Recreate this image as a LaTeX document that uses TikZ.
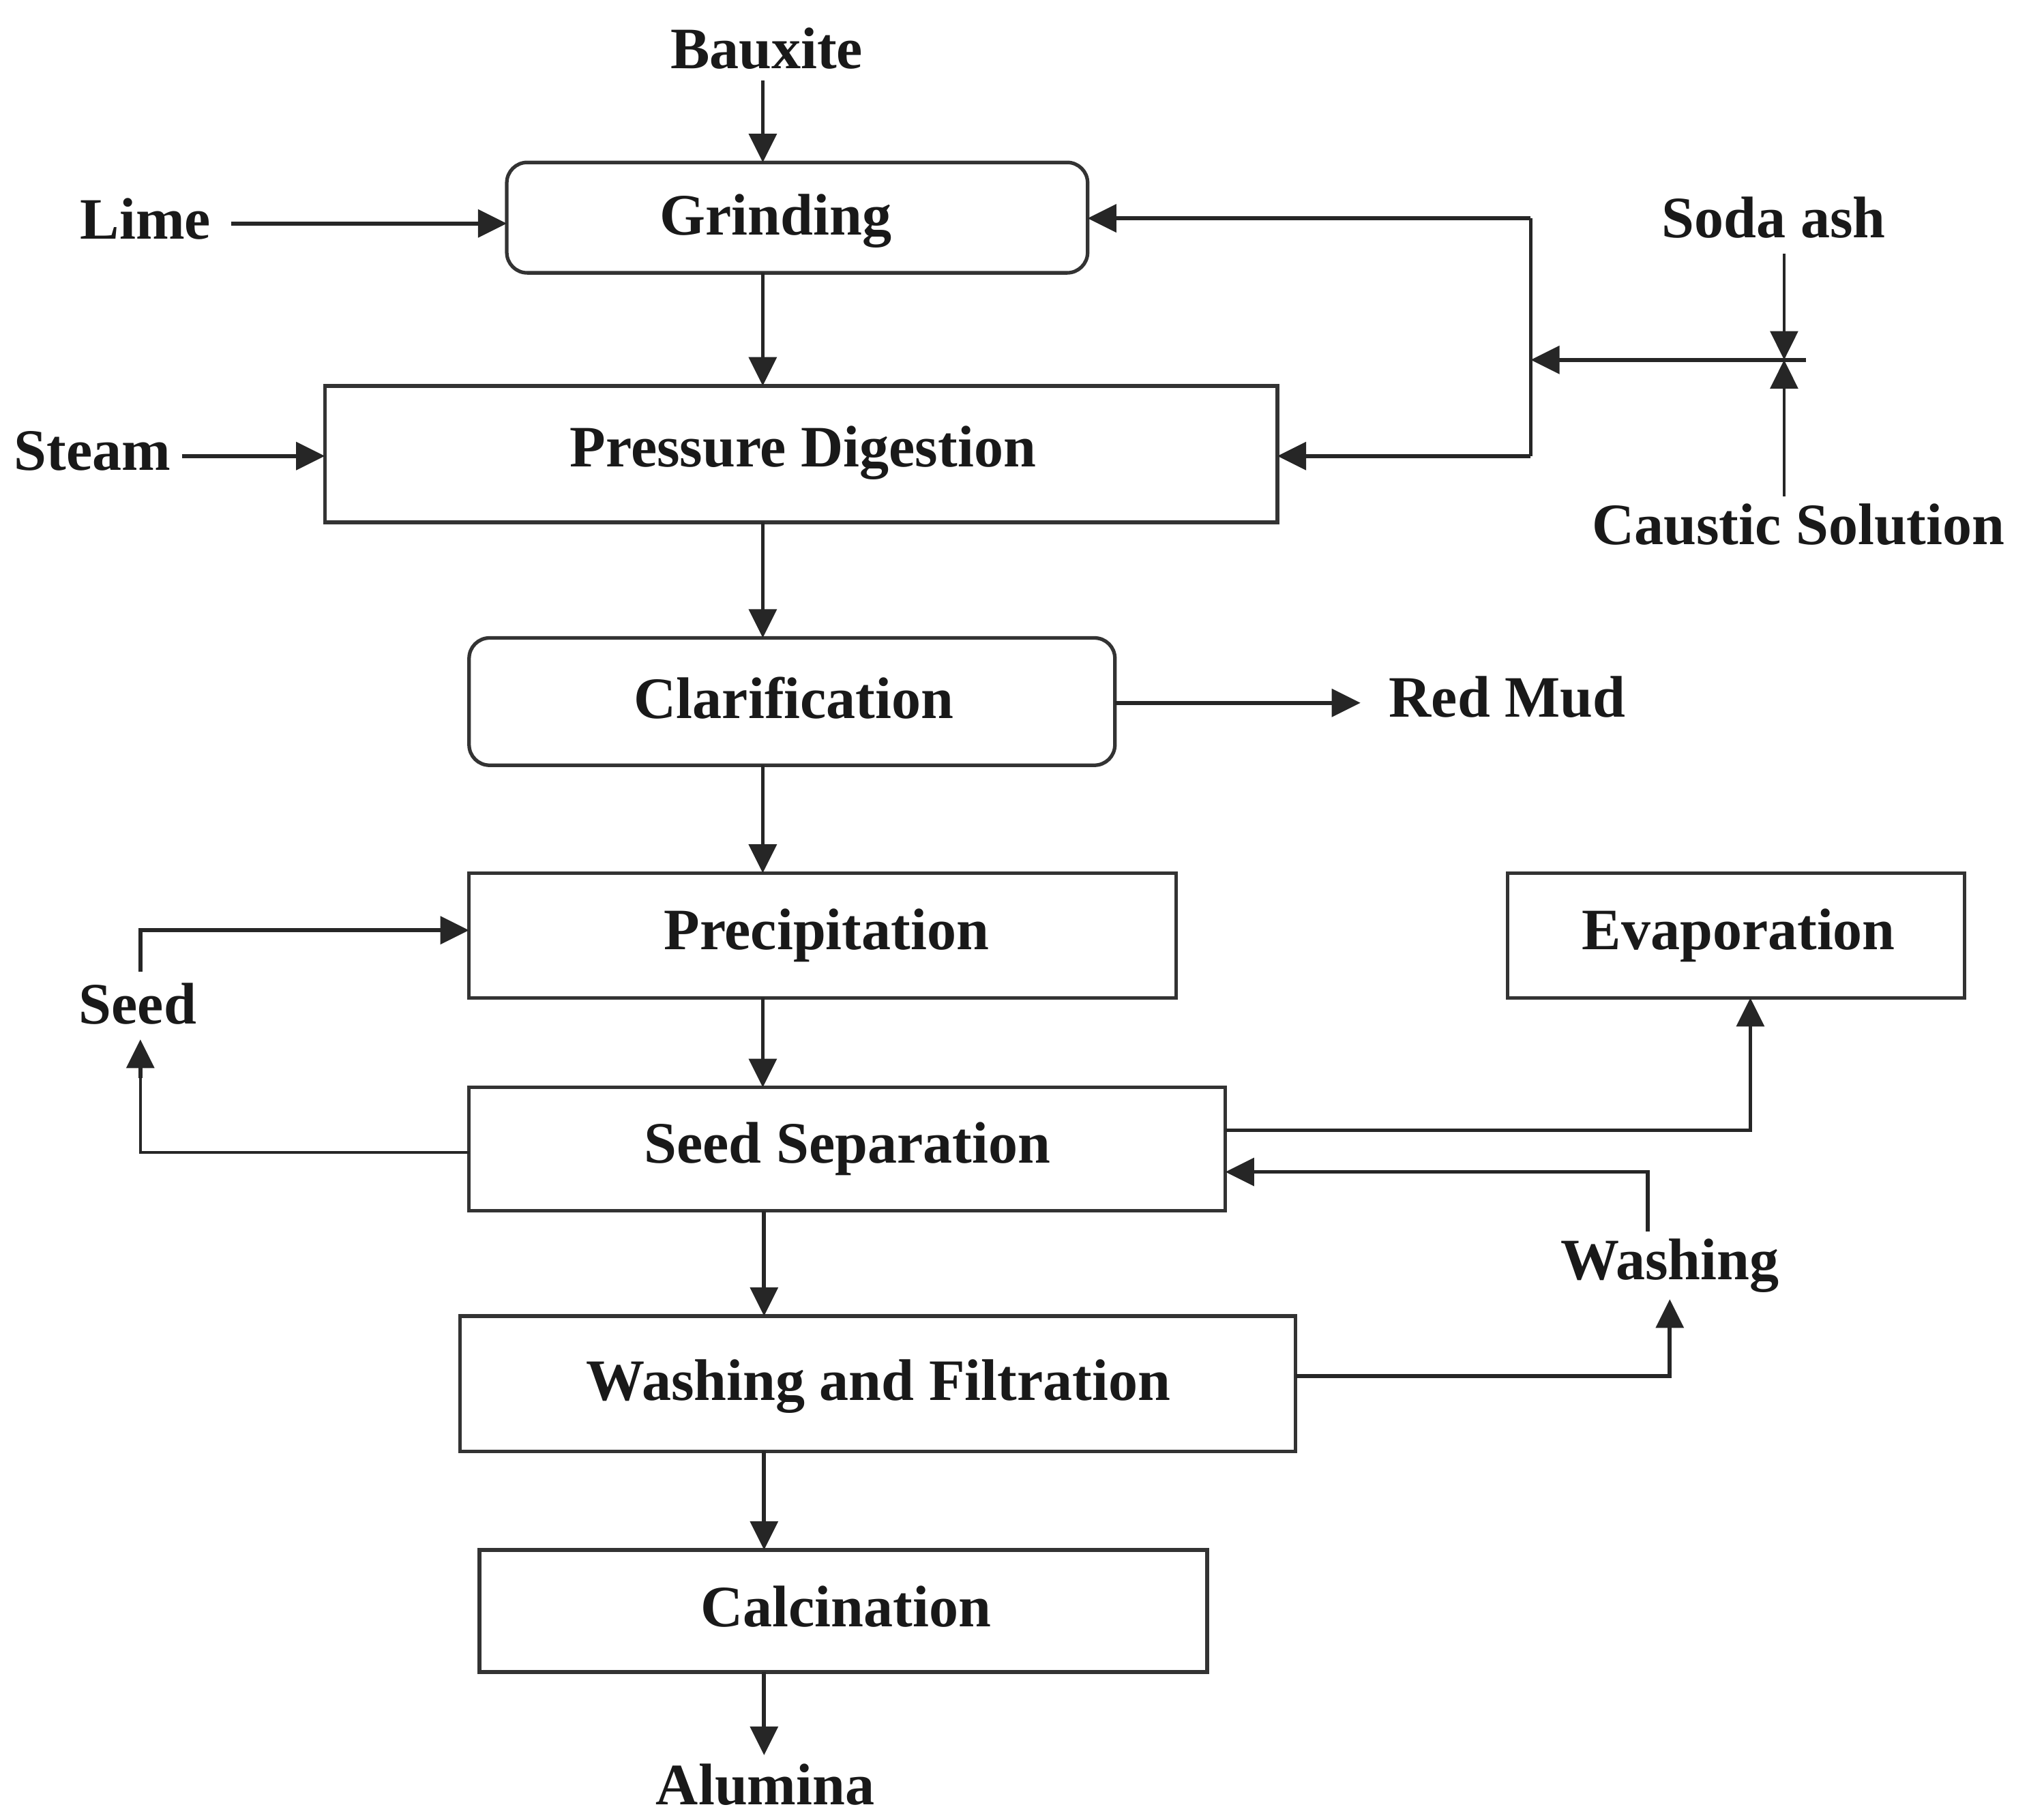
\documentclass[tikz,border=0pt]{standalone}
\usepackage{fontspec}
\setmainfont{Liberation Serif}
\usetikzlibrary{arrows.meta,calc}
\newcommand{\pxu}{0.019053cm}
\begin{document}
\begin{tikzpicture}[x=0.019053cm,y=-0.019053cm,
  font=\fontsize{24.5}{28}\selectfont\bfseries,
  every node/.style={text=black!90},
  lbl/.style={inner sep=1pt,anchor=base},
  boxs/.style={draw=black!80,line width=1.5pt,inner sep=0pt,outer sep=0pt},
  rbox/.style={boxs,rounded corners=0.3cm},
  arr/.style={draw=black!85,line width=1.6pt,-{Triangle[length=12pt,width=11.5pt]}},
  ln/.style={draw=black!85,line width=1.6pt}]
\useasboundingbox (0,0) rectangle (1573,1400.5);
\coordinate (mx) at (587,0);
% process boxes
\node[rbox,minimum width={447*\pxu},minimum height={85*\pxu}] (grind) at (613.5,167.5) {};
\node[lbl] at (597,181) {Grinding};
\node[boxs,minimum width={733*\pxu},minimum height={105*\pxu}] (pd) at (616.5,349.5) {};
\node[lbl] at (618,359) {Pressure Digestion};
\node[rbox,minimum width={497*\pxu},minimum height={98*\pxu}] (clar) at (609.5,540) {};
\node[lbl] at (611,553) {Clarification};
\node[boxs,minimum width={544*\pxu},minimum height={96*\pxu}] (prec) at (633,720) {};
\node[lbl] at (636,731) {Precipitation};
\node[boxs,minimum width={582*\pxu},minimum height={95*\pxu}] (ss) at (652,884.5) {};
\node[lbl] at (652,895) {Seed Separation};
\node[boxs,minimum width={352*\pxu},minimum height={96*\pxu}] (evap) at (1336,720) {};
\node[lbl] at (1338,731) {Evaporation};
\node[boxs,minimum width={643*\pxu},minimum height={104*\pxu}] (wf) at (675.5,1065) {};
\node[lbl] at (676,1078) {Washing and Filtration};
\node[boxs,minimum width={560*\pxu},minimum height={94*\pxu}] (calc) at (649,1240) {};
\node[lbl] at (651,1252) {Calcination};
% labels
\node[lbl] (baux) at (590,53) {Bauxite};
\node[lbl] (lime) at (112,184) {Lime};
\node[lbl] (steam) at (71,362) {Steam};
\node[lbl] (soda) at (1365,183) {Soda ash};
\node[lbl] (caus) at (1384,419) {Caustic Solution};
\node[lbl] (mud) at (1160,552) {Red Mud};
\node[lbl] (seed) at (106,788) {Seed};
\node[lbl] (wash) at (1285,985) {Washing};
\node[lbl,inner sep=0pt] (alum) at (589,1389) {Alumina};
% main vertical flow
\draw[arr] (mx |- 0,62) -- (grind.north -| mx);
\draw[arr] (grind.south -| mx) -- (pd.north -| mx);
\draw[arr] (pd.south -| mx) -- (clar.north -| mx);
\draw[arr] (clar.south -| mx) -- (prec.north -| mx);
\draw[arr] (prec.south -| mx) -- (ss.north -| mx);
\draw[arr] (ss.south -| 588,0) -- (wf.north -| 588,0);
\draw[arr] (wf.south -| 588,0) -- (calc.north -| 588,0);
\draw[arr] (calc.south -| 588,0) -- (588,1351);
% side inputs
\draw[arr] (178,172) -- (grind.west |- 0,172);
\draw[arr] (140,351) -- (pd.west |- 0,351);
% caustic / soda loop
\coordinate (jr) at (1178,277);
\coordinate (jx) at (1373,277);
\coordinate (jend) at (1390,277);
\draw[arr] (jend) -- (jr);
\draw[ln] (jr) -- (1178,168);
\draw[arr] (1178,168) -- (grind.east |- 0,168);
\draw[ln] (jr) -- (1178,351);
\draw[arr] (1178,351) -- (pd.east |- 0,351);
\draw[arr,line width=1.3pt] (jx |- 0,195) -- (jx);
\draw[arr,line width=1.3pt] (jx |- 0,382) -- (jx);
% red mud
\draw[arr] (clar.east |- 0,541) -- (1047,541);
% seed loop
\draw[arr] (108,748) |- (prec.west |- 0,716);
\draw[ln,line width=1.2pt] (ss.west |- 0,887) -| (108,830);
\draw[arr] (108,830) -- (108,800);
% evaporation
\draw[ln] (ss.east |- 0,870) -| (1347,800);
\draw[arr] (1347,800) -- (evap.south -| 1347,0);
% washing loop
\draw[ln] (1268,948) |- (1100,902);
\draw[arr] (1100,902) -- (ss.east |- 0,902);
\draw[ln] (wf.east |- 0,1059) -| (1285,1030);
\draw[arr] (1285,1030) -- (1285,1000);
\end{tikzpicture}
\end{document}
